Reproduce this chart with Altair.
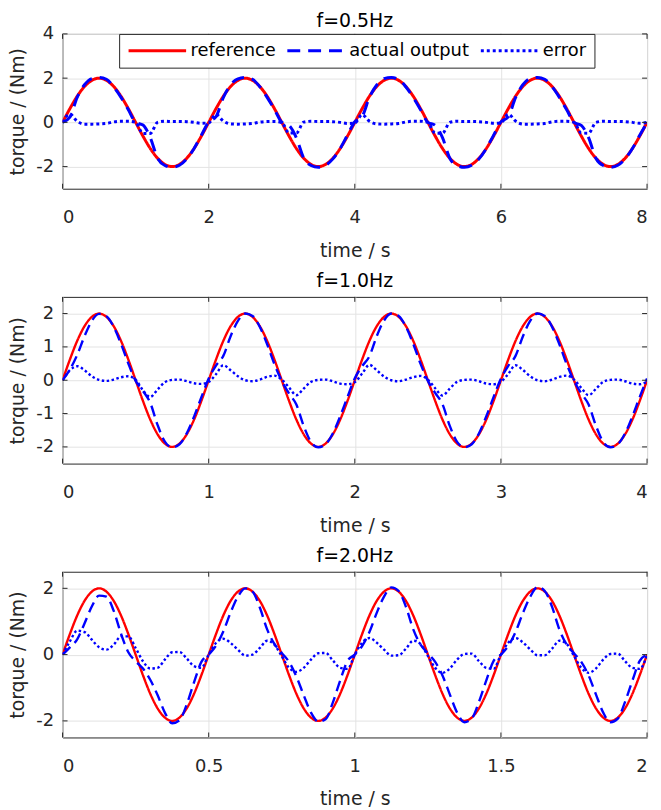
import altair as alt
import pandas as pd

SERIES = ["reference", "actual output", "error"]
FONT = "DejaVu Sans"
INK = "#262626"

# sample times (s) for each panel
t_05 = [round(0.1 * i, 3) for i in range(81)]
t_10 = [round(0.05 * i, 3) for i in range(81)]
t_20 = [round(0.025 * i, 4) for i in range(81)]

# reference torque read at the sample points (same shape in every panel)
ref_wave = [
    0.00, 0.62, 1.18, 1.62, 1.90, 2.00, 1.90, 1.62, 1.18, 0.62, 0.00, -0.62, -1.18, -1.62, -1.90, -2.00, -1.90, -1.62, -1.18, -0.62,
    0.00, 0.62, 1.18, 1.62, 1.90, 2.00, 1.90, 1.62, 1.18, 0.62, 0.00, -0.62, -1.18, -1.62, -1.90, -2.00, -1.90, -1.62, -1.18, -0.62,
    0.00, 0.62, 1.18, 1.62, 1.90, 2.00, 1.90, 1.62, 1.18, 0.62, 0.00, -0.62, -1.18, -1.62, -1.90, -2.00, -1.90, -1.62, -1.18, -0.62,
    0.00, 0.62, 1.18, 1.62, 1.90, 2.00, 1.90, 1.62, 1.18, 0.62, 0.00, -0.62, -1.18, -1.62, -1.90, -2.00, -1.90, -1.62, -1.18, -0.62,
    0.00,
]

act_05 = [
    0.00, 0.24, 1.13, 1.70, 1.98, 2.03, 1.95, 1.60, 1.13, 0.57, 0.00, -0.12, -0.68, -1.62, -1.95, -2.03, -1.94, -1.65, -1.18, -0.58,
    0.02, 0.26, 1.12, 1.70, 1.97, 2.03, 1.95, 1.61, 1.13, 0.58, 0.01, -0.14, -0.70, -1.61, -1.95, -2.03, -1.94, -1.65, -1.18, -0.57,
    0.03, 0.27, 1.13, 1.69, 1.98, 2.03, 1.95, 1.60, 1.12, 0.57, 0.00, -0.13, -0.69, -1.62, -1.95, -2.03, -1.94, -1.65, -1.18, -0.58,
    0.02, 0.25, 1.12, 1.70, 1.98, 2.03, 1.95, 1.61, 1.13, 0.57, 0.00, -0.14, -0.69, -1.62, -1.95, -2.03, -1.94, -1.65, -1.18, -0.58,
    0.00,
]
err_05 = [
    0.00, 0.38, 0.05, -0.08, -0.08, -0.07, -0.05, 0.02, 0.05, 0.05, 0.00, -0.50, -0.50, 0.00, 0.05, 0.04, 0.04, 0.03, 0.00, -0.04,
    -0.02, 0.36, 0.06, -0.07, -0.08, -0.07, -0.05, 0.01, 0.04, 0.04, -0.01, -0.48, -0.48, 0.01, 0.05, 0.04, 0.04, 0.03, 0.00, -0.05,
    -0.03, 0.35, 0.05, -0.07, -0.08, -0.07, -0.05, 0.02, 0.05, 0.05, 0.00, -0.49, -0.49, 0.00, 0.05, 0.04, 0.04, 0.03, 0.00, -0.04,
    -0.02, 0.37, 0.06, -0.08, -0.08, -0.07, -0.05, 0.02, 0.05, 0.05, 0.00, -0.48, -0.49, 0.00, 0.05, 0.04, 0.04, 0.03, 0.00, -0.04,
    0.00,
]

act_10 = [
    0.00, 0.32, 0.76, 1.32, 1.78, 1.99, 1.92, 1.60, 1.09, 0.50, -0.02, -0.32, -0.68, -1.34, -1.84, -2.01, -1.92, -1.59, -1.09, -0.51,
    0.05, 0.44, 0.73, 1.32, 1.78, 2.00, 1.93, 1.60, 1.08, 0.48, -0.02, -0.40, -0.73, -1.37, -1.85, -2.01, -1.92, -1.59, -1.08, -0.50,
    0.06, 0.42, 0.72, 1.32, 1.79, 2.00, 1.93, 1.60, 1.09, 0.49, -0.02, -0.38, -0.72, -1.37, -1.85, -2.01, -1.92, -1.59, -1.08, -0.50,
    0.05, 0.43, 0.73, 1.31, 1.78, 2.00, 1.93, 1.60, 1.08, 0.48, -0.02, -0.39, -0.73, -1.36, -1.85, -2.01, -1.92, -1.59, -1.08, -0.50,
    0.05,
]
err_10 = [
    0.00, 0.30, 0.42, 0.30, 0.12, 0.01, -0.02, 0.02, 0.09, 0.12, 0.02, -0.30, -0.50, -0.28, -0.06, 0.01, 0.02, -0.03, -0.09, -0.11,
    -0.05, 0.18, 0.45, 0.30, 0.12, 0.00, -0.03, 0.02, 0.10, 0.14, 0.02, -0.22, -0.45, -0.25, -0.05, 0.01, 0.02, -0.03, -0.10, -0.12,
    -0.06, 0.20, 0.46, 0.30, 0.11, 0.00, -0.03, 0.02, 0.09, 0.13, 0.02, -0.24, -0.46, -0.25, -0.05, 0.01, 0.02, -0.03, -0.10, -0.12,
    -0.05, 0.19, 0.45, 0.31, 0.12, 0.00, -0.03, 0.02, 0.10, 0.14, 0.02, -0.23, -0.45, -0.26, -0.05, 0.01, 0.02, -0.03, -0.10, -0.12,
    -0.05,
]

act_20 = [
    0.00, 0.22, 0.46, 0.94, 1.45, 1.78, 1.75, 1.32, 0.63, 0.07, -0.20, -0.42, -0.76, -1.22, -1.75, -2.07, -1.98, -1.50, -0.83, -0.22,
    0.00, 0.27, 0.70, 1.27, 1.75, 2.00, 1.90, 1.42, 0.76, 0.32, 0.05, -0.22, -0.66, -1.22, -1.75, -2.02, -1.95, -1.44, -0.78, -0.19,
    0.00, 0.26, 0.68, 1.26, 1.75, 2.03, 1.92, 1.44, 0.76, 0.30, 0.04, -0.22, -0.63, -1.20, -1.75, -2.04, -1.93, -1.42, -0.78, -0.19,
    0.00, 0.26, 0.68, 1.25, 1.74, 2.04, 1.92, 1.44, 0.76, 0.30, 0.04, -0.22, -0.63, -1.20, -1.75, -2.04, -1.93, -1.42, -0.78, -0.19,
    0.00,
]
err_20 = [
    0.00, 0.40, 0.72, 0.68, 0.45, 0.22, 0.15, 0.30, 0.55, 0.55, 0.20, -0.20, -0.42, -0.40, -0.15, 0.07, 0.08, -0.12, -0.35, -0.40,
    0.00, 0.35, 0.48, 0.35, 0.15, -0.03, 0.00, 0.20, 0.42, 0.30, -0.05, -0.40, -0.52, -0.40, -0.15, 0.04, 0.05, -0.18, -0.40, -0.43,
    0.00, 0.36, 0.50, 0.36, 0.15, -0.03, -0.02, 0.18, 0.42, 0.32, -0.04, -0.40, -0.55, -0.42, -0.15, 0.02, 0.03, -0.20, -0.40, -0.43,
    0.00, 0.36, 0.50, 0.37, 0.16, -0.02, -0.02, 0.18, 0.42, 0.32, -0.04, -0.40, -0.55, -0.42, -0.15, 0.02, 0.03, -0.20, -0.40, -0.43,
    0.00,
]

titles = ["f=0.5Hz", "f=1.0Hz", "f=2.0Hz"]
x_ticks_05 = [0, 2, 4, 6, 8]
x_ticks_10 = [0, 1, 2, 3, 4]
x_ticks_20 = [0, 0.5, 1, 1.5, 2]
y_ticks_05 = [-2, 0, 2, 4]
y_ticks_10 = [-2, -1, 0, 1, 2]
y_ticks_20 = [-2, 0, 2]

W = 589


def panel(title, t, act, err, xdom, ydom, xt, yt, h, dashes, sw, show_legend, title_offset):
    df = pd.DataFrame({
        "t": t * 3,
        "v": ref_wave + act + err,
        "s": [SERIES[0]] * len(t) + [SERIES[1]] * len(t) + [SERIES[2]] * len(t),
    })
    x = alt.X("t:Q", scale=alt.Scale(domain=xdom, nice=False, zero=False),
              axis=alt.Axis(values=xt, title="time / s", labelExpr="'' + datum.value"))
    y = alt.Y("v:Q", scale=alt.Scale(domain=ydom, nice=False, zero=False),
              axis=alt.Axis(values=yt, title="torque / (Nm)", labelExpr="'' + datum.value"))
    if show_legend:
        leg = alt.Legend(title=None, orient="none", legendX=57, legendY=0,
                         direction="horizontal", symbolType="stroke", symbolSize=3364,
                         symbolStrokeWidth=3, clipHeight=18, labelFontSize=18,
                         labelFont=FONT, labelColor="#000000", labelOffset=3,
                         columnPadding=10, padding=8, strokeColor=INK, fillColor="white",
                         labelLimit=0)
    else:
        leg = None
    color = alt.Color("s:N", scale=alt.Scale(domain=SERIES, range=["#ff0000", "#0000ff", "#0000ff"]),
                      legend=leg)
    dash = alt.StrokeDash("s:N", scale=alt.Scale(domain=SERIES, range=dashes), legend=leg)
    base = alt.Chart(df)
    layers = []
    for s in SERIES:
        layers.append(
            base.transform_filter(alt.datum.s == s)
            .mark_line(strokeWidth=sw, interpolate="monotone", clip=True)
            .encode(x=x, y=y, color=color, strokeDash=dash)
        )
    xt_df = pd.DataFrame({"t": xt})
    yt_df = pd.DataFrame({"v": yt})
    tick = dict(color=INK, strokeWidth=1)
    layers += [
        alt.Chart(xt_df).mark_rule(**tick).encode(x=x, y=alt.value(h), y2=alt.value(h - 5)),
        alt.Chart(xt_df).mark_rule(**tick).encode(x=x, y=alt.value(0), y2=alt.value(5)),
        alt.Chart(yt_df).mark_rule(**tick).encode(y=y, x=alt.value(0), x2=alt.value(5)),
        alt.Chart(yt_df).mark_rule(**tick).encode(y=y, x=alt.value(W), x2=alt.value(W - 5)),
    ]
    return alt.layer(*layers).properties(
        width=W, height=h,
        title=alt.TitleParams(text=title, fontSize=19, font=FONT, fontWeight="normal",
                              color="#000000", anchor="middle", frame="group",
                              offset=title_offset),
    )


p1 = panel(titles[0], t_05, act_05, err_05, [0, 8], [-3, 4], x_ticks_05, y_ticks_05, 156,
           [[1, 0], [13, 8], [3, 3]], 3, True, -6)
p2 = panel(titles[1], t_10, act_10, err_10, [0, 4], [-2.5, 2.5], x_ticks_10, y_ticks_10, 168,
           [[1, 0], [11, 6], [2.5, 2.5]], 2.4, False, 5)
p3 = panel(titles[2], t_20, act_20, err_20, [0, 2], [-2.5, 2.5], x_ticks_20, y_ticks_20, 167,
           [[1, 0], [11, 6], [2.5, 2.5]], 2.4, False, 5)

chart = (
    alt.vconcat(p1, p2, p3, spacing=109, bounds="flush")
    .resolve_scale(x="independent", y="independent", color="independent", strokeDash="independent")
    .properties(padding={"left": 0, "top": 0, "right": 5, "bottom": 0})
    .configure_view(stroke=INK, strokeWidth=1)
    .configure_axis(
        domain=False, ticks=False, tickSize=0, grid=True, gridColor="#e3e3e3", gridWidth=1,
        labelFont=FONT, labelFontSize=18, labelColor=INK, labelPadding=16,
        titleFont=FONT, titleFontSize=19, titleFontWeight="normal", titleColor=INK,
    )
    .configure_axisX(labelPadding=20, titlePadding=15)
    .configure_axisY(labelPadding=9, titlePadding=8)
)

chart.save("out.html", embed_options={"renderer": "svg", "actions": False})
